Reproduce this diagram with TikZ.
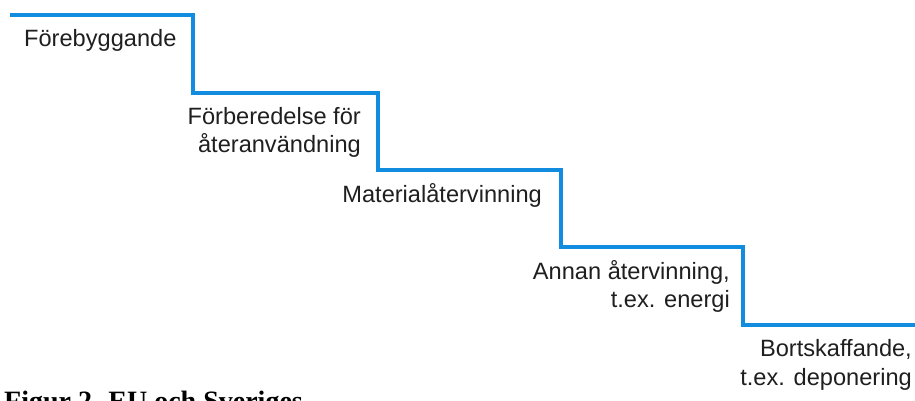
\documentclass[tikz,border=0pt]{standalone}
\usepackage{fontspec}
\setmainfont{Liberation Sans}
\newfontfamily\captionfont{Liberation Serif}
\definecolor{stairblue}{RGB}{18,140,222}
\begin{document}
\begin{tikzpicture}[x=1pt,y=-1pt,
  stair/.style={draw=stairblue,line width=3.6pt,line join=miter,line cap=butt},
  steplabel/.style={inner sep=0pt,align=right,text=black!88,
    font=\fontsize{23.6}{28}\selectfont},
  figcaption/.style={inner sep=0pt,font=\captionfont\bfseries\fontsize{28}{32}\selectfont}]
  \useasboundingbox (0,0) rectangle (915,400);
  \clip (0,0) rectangle (915,400);
  \fill[white] (0,0) rectangle (915,400);

  % corners of the staircase
  \coordinate (s0) at (10,15);
  \coordinate (s1) at (193,15);
  \coordinate (s2) at (193,93);
  \coordinate (s3) at (378,93);
  \coordinate (s4) at (378,170);
  \coordinate (s5) at (561,170);
  \coordinate (s6) at (561,247);
  \coordinate (s7) at (743,247);
  \coordinate (s8) at (743,325);
  \coordinate (s9) at (920,325);

  \draw[stair] (s0) -- (s1) -- (s2) -- (s3) -- (s4) -- (s5) -- (s6) -- (s7) -- (s8) -- (s9);

  % step labels (base anchor = baseline of the last line)
  \node[steplabel,anchor=base west] (prevent) at (24,46) {Förebyggande};
  \node[steplabel,anchor=base east] (reuse) at (361,152) {Förberedelse för\\återanvändning};
  \node[steplabel,anchor=base east] (recycle) at (542,202) {Materialåtervinning};
  \node[steplabel,anchor=base east] (recover) at (730,307) {Annan återvinning,\\t.ex. energi};
  \node[steplabel,anchor=base east] (dispose) at (912,385) {Bortskaffande,\\[1pt]t.ex. deponering};

  % figure caption, cut by the lower edge
  \node[figcaption,anchor=base west] (caption) at (4,410) {Figur 2. EU och Sveriges};
\end{tikzpicture}
\end{document}
